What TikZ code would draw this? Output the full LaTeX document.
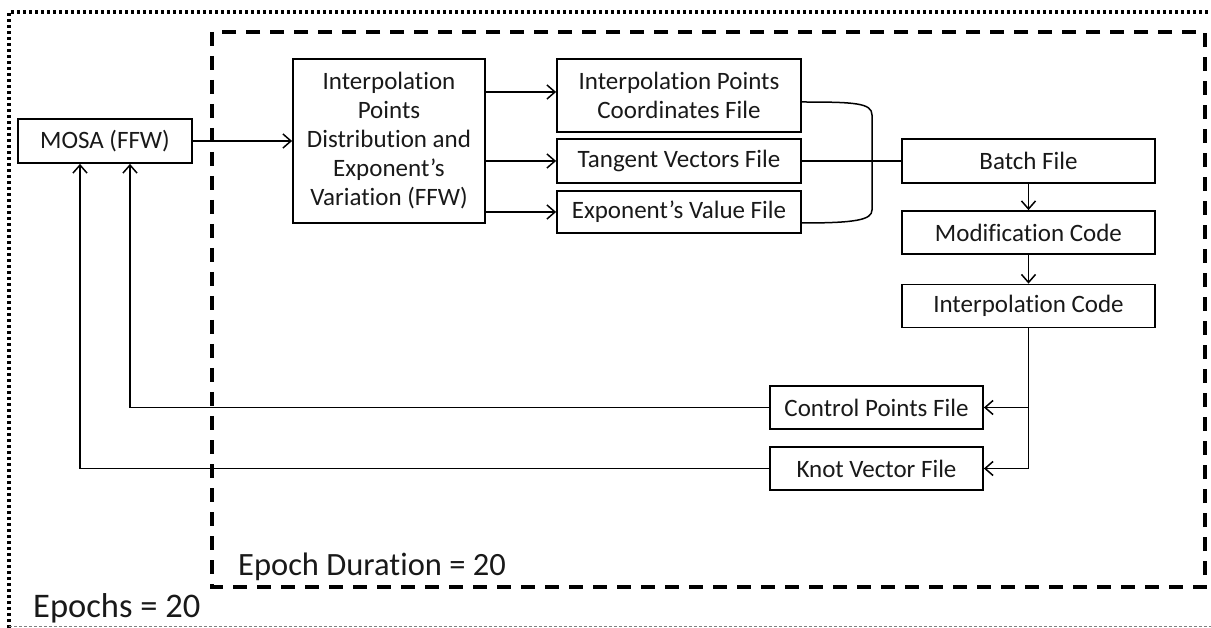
\documentclass[tikz,border=0pt]{standalone}
\usepackage{fontspec}
\setmainfont{Carlito}[Ligatures=NoCommon]
\usetikzlibrary{arrows.meta,calc}
\begin{document}
\begin{tikzpicture}[x=1pt,y=-1pt,
  box/.style={draw,line width=1.8pt,inner sep=0pt,align=center,font=\fontsize{25}{29}\selectfont,text=black!90},
  conn/.style={line width=1.5pt},
  arr/.style={conn,-{Straight Barb[length=8pt,width=14pt,line width=1.5pt]}},
  lbl/.style={anchor=base west,inner sep=0pt,text=black!90}]
\useasboundingbox (0,0) rectangle (1211,628);
% outer frame
\draw[line width=3.2pt,dash pattern=on 3pt off 3pt] (9,640) -- (9,12) -- (1230,12);
\draw[line width=1pt,gray,dash pattern=on 3pt off 2pt] (9,626) -- (1230,626);
% inner frame
\draw[line width=4pt,dash pattern=on 14pt off 10pt] (212,32) rectangle (1205,587);
% nodes
\node[box,minimum width=174pt,minimum height=44pt] (mosa) at (105,141) {MOSA (FFW)};
\node[box,minimum width=192pt,minimum height=164pt] (ipd) at (389,141) {Interpolation\\Points\\Distribution and\\Exponent’s\\Variation (FFW)};
\node[box,minimum width=244pt,minimum height=73pt] (coord) at (679,95.5) {Interpolation Points\\Coordinates File};
\node[box,minimum width=244pt,minimum height=44pt] (tang) at (679,161) {Tangent Vectors File};
\node[box,minimum width=244pt,minimum height=42pt] (expo) at (679,212) {Exponent’s Value File};
\node[box,minimum width=253pt,minimum height=44pt] (batch) at (1028.5,161) {Batch File};
\node[box,minimum width=253pt,minimum height=43pt] (mod) at (1028.5,232.5) {Modification Code};
\node[box,minimum width=253pt,minimum height=43pt] (icode) at (1028.5,306) {Interpolation Code};
\node[box,minimum width=213pt,minimum height=43pt] (cpf) at (876.5,407.5) {Control Points File};
\node[box,minimum width=213pt,minimum height=43pt] (kvf) at (876.5,468.5) {Knot Vector File};
\node[lbl,font=\fontsize{32.5}{38}\selectfont] (ed) at (238,575) {Epoch Duration = 20};
\node[lbl,font=\fontsize{34.5}{40}\selectfont] (ep) at (33,617) {Epochs = 20};
% connectors
\draw[arr] (mosa.east) -- (ipd.west);
\draw[arr] (ipd.east |- 0,92) -- (coord.west |- 0,92);
\draw[arr] (ipd.east |- tang.west) -- (tang.west);
\draw[arr] (ipd.east |- expo.west) -- (expo.west);
\draw[conn] (coord.east |- 0,102) .. controls (855,102) and (872,103) .. (872,115) -- (872,210)
  .. controls (872,220) and (855,223) .. (expo.east |- 0,223);
\draw[conn] (tang.east) -- (batch.west);
\draw[arr] (batch.south) -- (mod.north);
\draw[arr] (mod.south) -- (icode.north);
\coordinate (br) at (icode.south |- cpf.east);
\draw[arr] (icode.south) -- (icode.south |- kvf.east) -- (kvf.east);
\draw[arr] (br) -- (cpf.east);
\draw[arr] (cpf.west) -- (130,407.5) -- (mosa.south -| 130,0);
\draw[arr] (kvf.west) -- (80,468.5) -- (mosa.south -| 80,0);
\end{tikzpicture}
\end{document}
